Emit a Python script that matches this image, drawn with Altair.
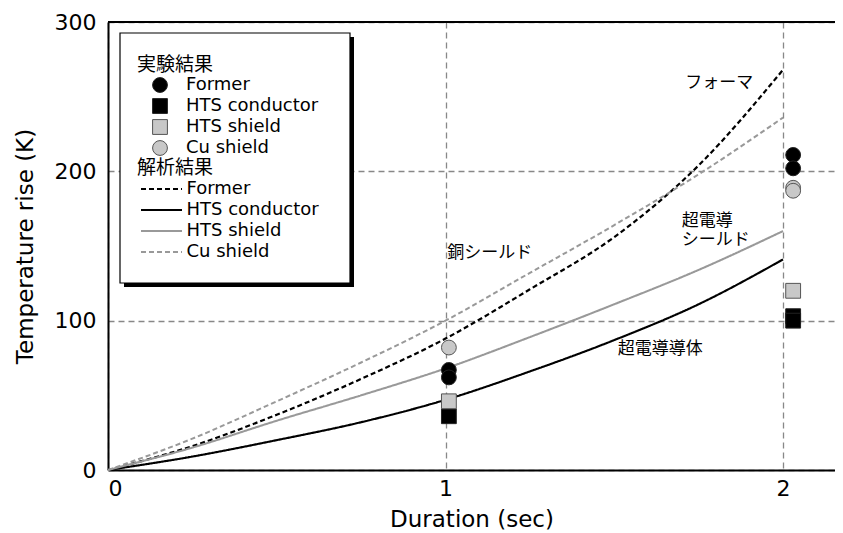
import altair as alt
import pandas as pd

# ---------------- data ----------------
series_names = ["Former", "HTS conductor", "HTS shield", "Cu shield"]

# analysis (解析結果) curves
x_an = [0, 0.25, 0.5, 0.75, 1.0, 1.25, 1.5, 1.75, 2.0]
former_an = [0, 16, 37, 61, 88, 121, 156, 204, 268]
cond_an = [0, 9, 20, 32, 47, 66, 87, 111, 141]
shield_an = [0, 15, 33, 50, 68, 89, 111, 134, 160]
cu_an = [0, 21, 46, 72, 100, 132, 164, 198, 236]

# experiment (実験結果) points
exp_former_x = [1.01, 1.01, 2.03, 2.03]
exp_former_y = [67, 62, 211, 202]
exp_cond_x = [1.01, 2.03, 2.03]
exp_cond_y = [36, 103, 100]
exp_shield_x = [1.01, 2.03]
exp_shield_y = [46, 120]
exp_cu_x = [1.01, 2.03, 2.03]
exp_cu_y = [82, 189, 187]

# annotations
ann_text = ["フォーマ", "超電導", "シールド", "銅シールド", "超電導導体"]
ann_x = [1.71, 1.70, 1.70, 1.005, 1.51]
ann_y = [259, 167, 154, 145, 81]

x_ticks = [0, 1, 2]
y_ticks = [0, 100, 200, 300]

# ---------------- tables ----------------
# analysis series keys get a trailing space so the two legends stay separate
ana_names = [n + " " for n in series_names]

an_rows = []
for name, ys in zip(ana_names, [former_an, cond_an, shield_an, cu_an]):
    for xv, yv in zip(x_an, ys):
        an_rows.append({"x": xv, "y": yv, "ana": name})
an_df = pd.DataFrame(an_rows)

ex_rows = []
for name, xs, ys in zip(series_names,
                        [exp_former_x, exp_cond_x, exp_shield_x, exp_cu_x],
                        [exp_former_y, exp_cond_y, exp_shield_y, exp_cu_y]):
    for xv, yv in zip(xs, ys):
        ex_rows.append({"x": xv, "y": yv, "exp": name})
ex_df = pd.DataFrame(ex_rows)

ann_df = pd.DataFrame({"x": ann_x, "y": ann_y, "t": ann_text})

xscale = alt.Scale(domain=[0, 2.154], nice=False, zero=False)
yscale = alt.Scale(domain=[0, 300], nice=False)

xaxis = alt.Axis(values=x_ticks, title="Duration (sec)", format="d")
yaxis = alt.Axis(values=y_ticks, title="Temperature rise (K)", format="d")

one = pd.DataFrame({"a": [0]})

top_rule = alt.Chart(one).mark_rule(color="black", strokeWidth=2).encode(
    y=alt.datum(300, scale=yscale, axis=yaxis)
)

shadow = alt.Chart(one).mark_rect(fill="black").encode(
    x=alt.value(16), x2=alt.value(246), y=alt.value(15), y2=alt.value(265)
)
frame = alt.Chart(one).mark_rect(fill="white", stroke="black", strokeWidth=1.2).encode(
    x=alt.value(12), x2=alt.value(242), y=alt.value(11), y2=alt.value(261)
)

ana_legend = alt.Legend(title="解析結果", orient="none", legendX=29, legendY=137,
                        symbolType="M-4,0H4", symbolSize=105, symbolOffset=15.5,
                        labelOffset=16, rowPadding=3, titlePadding=2, padding=0)

lines = alt.Chart(an_df).mark_line(interpolate="monotone").encode(
    x=alt.X("x:Q", scale=xscale, axis=xaxis),
    y=alt.Y("y:Q", scale=yscale, axis=yaxis),
    stroke=alt.Stroke("ana:N",
        scale=alt.Scale(domain=ana_names, range=["#000000", "#000000", "#999999", "#999999"]),
        legend=ana_legend),
    strokeDash=alt.StrokeDash("ana:N",
        scale=alt.Scale(domain=ana_names, range=[[5, 3], [1, 0], [1, 0], [5, 3]]),
        legend=ana_legend),
    strokeWidth=alt.StrokeWidth("ana:N",
        scale=alt.Scale(domain=ana_names, range=[2.2, 2.0, 1.8, 1.5]),
        legend=ana_legend),
)

exp_legend = alt.Legend(title="実験結果", orient="none", legendX=29, legendY=34,
                        symbolOffset=14, labelOffset=17, symbolSize=220,
                        symbolStrokeWidth=1,
                        rowPadding=1, titlePadding=1, padding=0)

points = alt.Chart(ex_df).mark_point(filled=True, size=220, strokeWidth=1, opacity=1).encode(
    x=alt.X("x:Q", scale=xscale, axis=xaxis),
    y=alt.Y("y:Q", scale=yscale, axis=yaxis),
    shape=alt.Shape("exp:N",
        scale=alt.Scale(domain=series_names, range=["circle", "square", "square", "circle"]),
        legend=exp_legend),
    fill=alt.Fill("exp:N",
        scale=alt.Scale(domain=series_names, range=["#000000", "#000000", "#c8c8c8", "#c8c8c8"]),
        legend=exp_legend),
    stroke=alt.Stroke("exp:N",
        scale=alt.Scale(domain=series_names, range=["#222222", "#222222", "#555555", "#555555"]),
        legend=exp_legend),
)

texts = alt.Chart(ann_df).mark_text(align="left", baseline="middle",
                                    font="Noto Sans CJK JP", fontSize=17, color="black").encode(
    x=alt.X("x:Q", scale=xscale, axis=xaxis),
    y=alt.Y("y:Q", scale=yscale, axis=yaxis),
    text="t:N",
)

chart = alt.layer(top_rule, shadow, frame, lines, points, texts).resolve_scale(
    shape="independent", fill="independent", stroke="independent",
    strokeDash="independent", strokeWidth="independent",
).properties(
    width=727, height=448,
    autosize=alt.AutoSizeParams(type="none"),
    padding={"left": 100, "top": 14, "right": 0, "bottom": 62},
).configure_view(stroke=None).configure_axis(
    domainColor="black", domainWidth=2, ticks=False,
    grid=True, gridColor="#888888", gridDash=[6, 4], gridWidth=1.3,
    labelFont="DejaVu Sans", labelFontSize=22, labelColor="black",
    titleFont="DejaVu Sans", titleFontSize=23, titleFontWeight="normal", titleColor="black",
).configure_axisX(labelPadding=8, titlePadding=9).configure_axisY(
    labelPadding=12, titlePadding=17
).configure_legend(
    titleFont="Noto Sans CJK JP", titleFontSize=19, titleFontWeight="normal", titleColor="black",
    labelFont="DejaVu Sans", labelFontSize=18, labelColor="black",
)

chart.save("out.html", embed_options={"renderer": "svg", "actions": False})
